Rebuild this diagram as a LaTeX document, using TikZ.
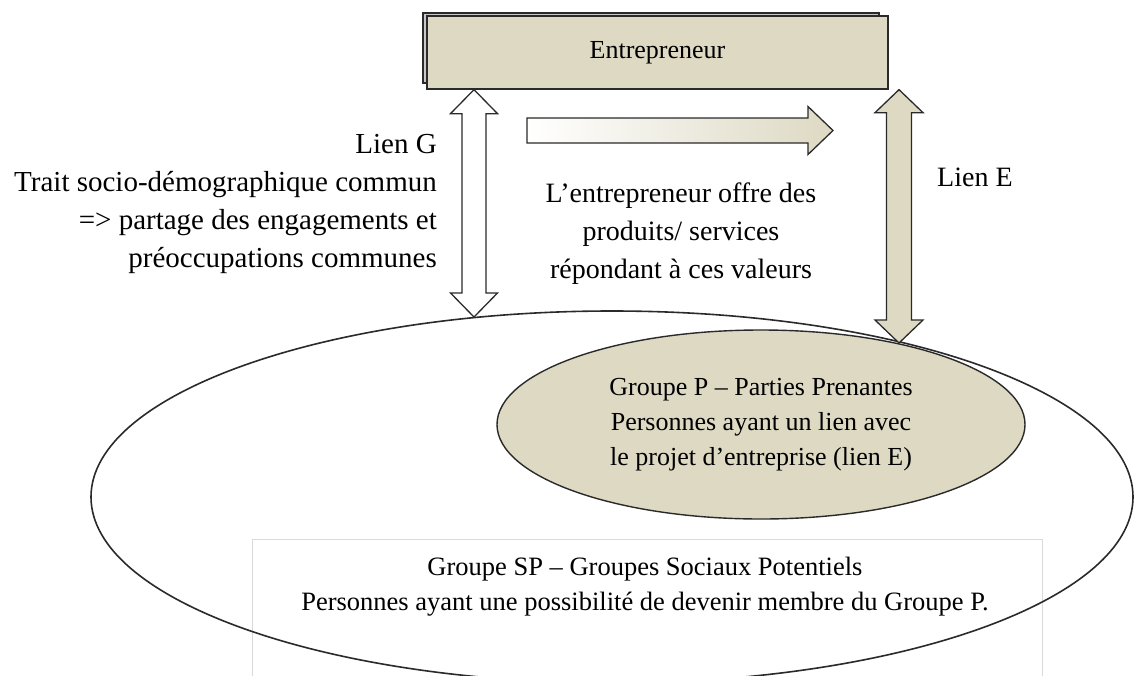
\documentclass[tikz,border=0pt]{standalone}
\usepackage{fontspec}
\setmainfont{Liberation Serif}
\usetikzlibrary{shapes.geometric,calc}
\definecolor{beige}{HTML}{DDD9C3}
\definecolor{outl}{HTML}{2A2A2A}
\definecolor{shadowgray}{HTML}{C8C8C8}
\newcommand\dblarrow[6]{%
  \draw[#1] (#2) -- ++(#5,#6) -- ++(-#5+#4,0) -- ($(#3)+(#4,-#6)$) -- ++(#5-#4,0)
    -- (#3) -- ++(-#5,-#6) -- ++(#5-#4,0) -- ($(#2)+(-#4,#6)$) -- ++(-#5+#4,0) -- cycle;}
\begin{document}
\begin{tikzpicture}[x=1pt,y=-1pt,
  lbl/.style={inner sep=0pt, text=black},
  blk/.style={draw=outl, line width=1.3pt, line join=miter},
  entbox/.style={rectangle, draw=outl, line width=1.3pt, fill=beige, inner sep=0pt,
    minimum width=461pt, minimum height=73pt, font=\fontsize{26}{30}\selectfont},
  shadowbox/.style={draw=outl, line width=1.3pt, fill=shadowgray},
  bigell/.style={ellipse, draw=outl, line width=1.6pt, inner sep=0pt,
    minimum width=1042pt, minimum height=372pt},
  smallell/.style={ellipse, draw=outl, line width=1.4pt, fill=beige, inner sep=0pt,
    minimum width=528pt, minimum height=189pt, align=center,
    font=\fontsize{26}{35}\selectfont},
  spbox/.style={rectangle, draw=gray!30, line width=1pt, inner sep=0pt,
    minimum width=790pt, minimum height=170pt, anchor=north west},
]
\useasboundingbox (0,0) rectangle (1135,675);

% Entrepreneur box with its shadow
\coordinate (entc) at (657.5,52.5);
\draw[shadowbox] ($(entc)+(-234.5,-39.5)$) rectangle ($(entc)+(221.5,30.5)$);
\node[entbox] (ent) at (entc) {Entrepreneur};

% bottom rectangle (groupe SP)
\node[spbox] (sp) at (252,539) {};

% big ellipse
\node[bigell] (big) at (612,497) {};

% small ellipse (groupe P)
\node[smallell] (gp) at (761,424.5)
  {Groupe P -- Parties Prenantes\\Personnes ayant un lien avec\\le projet d’entreprise (lien E)};

% link G (white double arrow)
\coordinate (gt) at (474,0 |- ent.south);
\coordinate (gb) at (474,317);
\dblarrow{blk, fill=white}{gt}{gb}{12}{23.5}{24}

% link E (beige double arrow)
\coordinate (et) at (899,0 |- ent.south);
\coordinate (eb) at (899,343);
\dblarrow{blk, fill=beige}{et}{eb}{12.5}{24}{23}

% offer arrow (gradient)
\coordinate (oa) at (527,130.5);
\coordinate (ob) at (833,130.5);
\shade[blk, left color=white, middle color=beige!35!white, right color=beige]
  ($(oa)+(0,-12.5)$) -- ($(ob)+(-25,-12.5)$) -- ($(ob)+(-25,-24)$) -- (ob)
  -- ($(ob)+(-25,24)$) -- ($(ob)+(-25,12.5)$) -- ($(oa)+(0,12.5)$) -- cycle;

% texts (base anchor = baseline of the last line)
\node[lbl, anchor=base east, align=right, font=\fontsize{29}{38}\selectfont] (tg) at (437,267)
  {Lien G\\Trait socio-démographique commun\\=> partage des engagements et\\préoccupations communes};
\node[lbl, anchor=base, align=center, font=\fontsize{28}{38}\selectfont] (to) at (681,278)
  {L’entrepreneur offre des\\produits/ services\\répondant à ces valeurs};
\node[lbl, anchor=base west, font=\fontsize{28}{34}\selectfont] (te) at (937,186) {Lien E};
\node[lbl, anchor=base, align=center, font=\fontsize{26.5}{35}\selectfont] (tsp) at (645,610)
  {Groupe SP -- Groupes Sociaux Potentiels\\Personnes ayant une possibilité de devenir membre du Groupe P.};
\end{tikzpicture}
\end{document}
